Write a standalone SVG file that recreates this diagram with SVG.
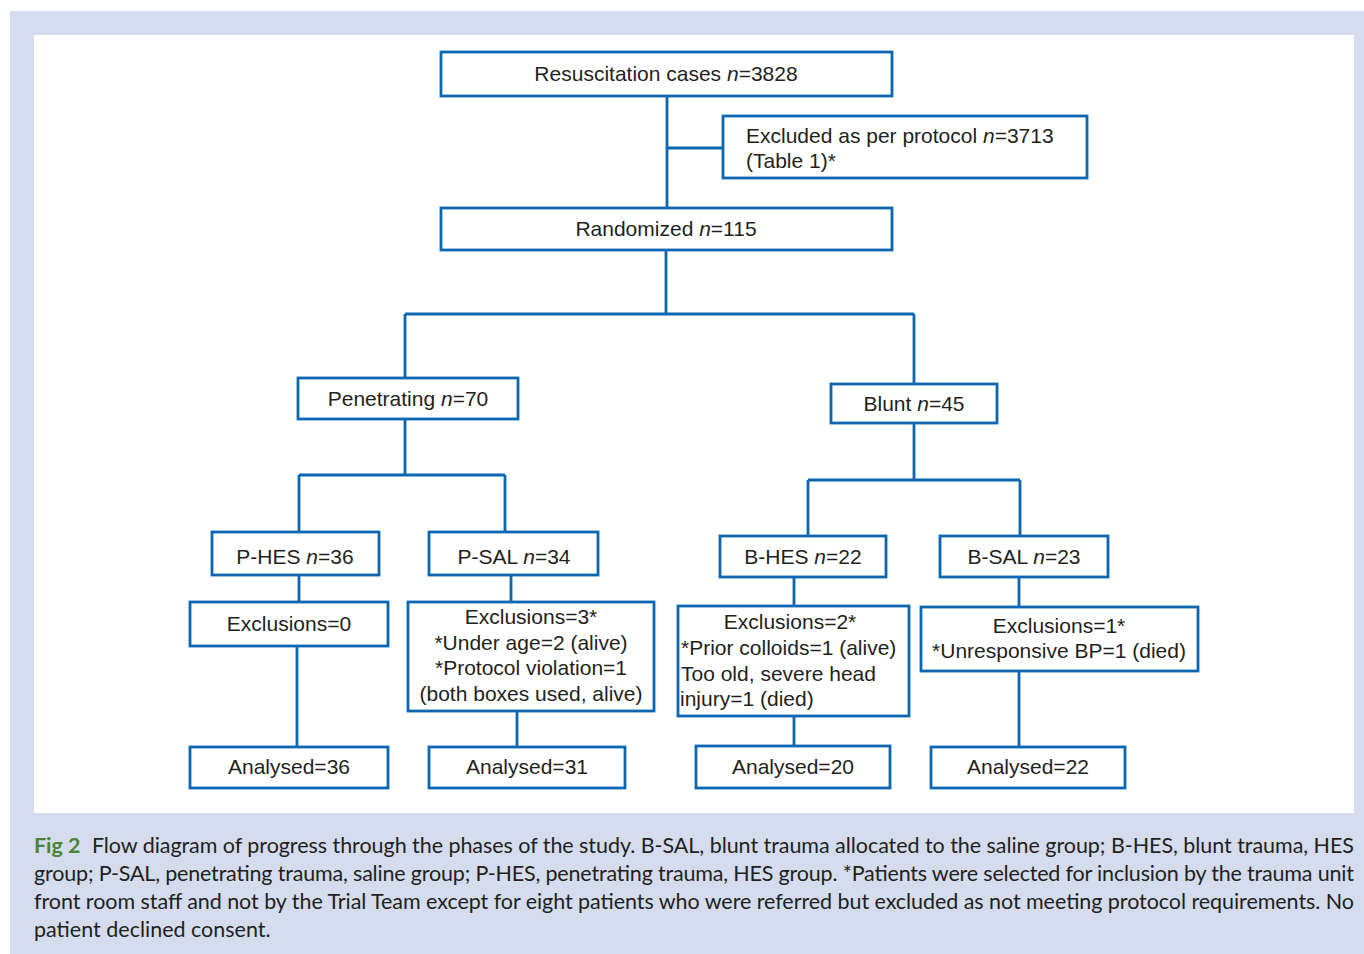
<svg xmlns="http://www.w3.org/2000/svg" width="1364" height="954" viewBox="0 0 1364 954">
<style>
.box{fill:#fff;stroke:#0b67b1;stroke-width:2.8}
.conn{fill:none;stroke:#0b67b1;stroke-width:2.8}
.t{font-family:"Liberation Sans",Arial,Helvetica,sans-serif;font-size:21px;fill:#231f20}
.c{text-anchor:middle}
.cap{font-family:Lato,"Open Sans","Liberation Sans",sans-serif;font-size:21.5px;fill:#231f20}
.fig{font-weight:bold;fill:#4a8535}
</style>
<rect x="0" y="0" width="1364" height="954" fill="#fff"/>
<rect x="10" y="11" width="1354" height="943" fill="#d4dcee"/>
<rect x="34" y="35" width="1320" height="778" fill="#fff"/>
<g id="connectors">
<path class="conn" d="M667,96 V208 M667,148 H723"/>
<path class="conn" d="M666,250 V314 M405,314 H914 M405,314 V378 M914,314 V384"/>
<path class="conn" d="M405,419 V475 M299,475 H505 M299,475 V532 M505,475 V532"/>
<path class="conn" d="M914,423 V480 M808,480 H1020 M808,480 V536 M1020,480 V536"/>
<path class="conn" d="M299,575 V602 M297,646 V747"/>
<path class="conn" d="M511,575 V602 M517,711 V747"/>
<path class="conn" d="M794,577 V606 M794,716 V746"/>
<path class="conn" d="M1019,577 V607 M1019,671 V747"/>
</g>
<g id="resus"><rect class="box" x="441" y="52" width="451" height="44"/><text class="t c" x="666" y="81">Resuscitation cases <tspan font-style="italic">n</tspan>=3828</text></g>
<g id="excluded"><rect class="box" x="723" y="116" width="364" height="62"/><text class="t" x="746" y="143">Excluded as per protocol <tspan font-style="italic">n</tspan>=3713</text><text class="t" x="746" y="168">(Table 1)*</text></g>
<g id="randomized"><rect class="box" x="441" y="208" width="451" height="42"/><text class="t c" x="666" y="236">Randomized <tspan font-style="italic">n</tspan>=115</text></g>
<g id="penetrating"><rect class="box" x="298" y="378" width="220" height="41"/><text class="t c" x="408" y="406">Penetrating <tspan font-style="italic">n</tspan>=70</text></g>
<g id="blunt"><rect class="box" x="831" y="384" width="166" height="39"/><text class="t c" x="914" y="411">Blunt <tspan font-style="italic">n</tspan>=45</text></g>
<g id="phes"><rect class="box" x="212" y="532" width="167" height="43"/><text class="t c" x="295" y="564">P-HES <tspan font-style="italic">n</tspan>=36</text></g>
<g id="psal"><rect class="box" x="429" y="532" width="169" height="43"/><text class="t c" x="514" y="564">P-SAL <tspan font-style="italic">n</tspan>=34</text></g>
<g id="bhes"><rect class="box" x="720" y="536" width="166" height="41"/><text class="t c" x="803" y="564">B-HES <tspan font-style="italic">n</tspan>=22</text></g>
<g id="bsal"><rect class="box" x="940" y="536" width="168" height="41"/><text class="t c" x="1024" y="564">B-SAL <tspan font-style="italic">n</tspan>=23</text></g>
<g id="excl0"><rect class="box" x="190" y="602" width="198" height="44"/><text class="t c" x="289" y="631">Exclusions=0</text></g>
<g id="excl3"><rect class="box" x="408" y="602" width="246" height="109"/>
<text class="t c" x="531" y="624">Exclusions=3*</text>
<text class="t c" x="531" y="650">*Under age=2 (alive)</text>
<text class="t c" x="531" y="675">*Protocol violation=1</text>
<text class="t c" x="531" y="701">(both boxes used, alive)</text></g>
<g id="excl2"><rect class="box" x="678" y="606" width="231" height="110"/>
<text class="t c" x="790" y="629">Exclusions=2*</text>
<text class="t" x="681" y="655">*Prior colloids=1 (alive)</text>
<text class="t" x="681" y="681">Too old, severe head</text>
<text class="t" x="680" y="706">injury=1 (died)</text></g>
<g id="excl1"><rect class="box" x="921" y="607" width="277" height="64"/>
<text class="t c" x="1059" y="633">Exclusions=1*</text>
<text class="t c" x="1059" y="658">*Unresponsive BP=1 (died)</text></g>
<g id="an36"><rect class="box" x="190" y="747" width="198" height="41"/><text class="t c" x="289" y="774">Analysed=36</text></g>
<g id="an31"><rect class="box" x="429" y="747" width="196" height="41"/><text class="t c" x="527" y="774">Analysed=31</text></g>
<g id="an20"><rect class="box" x="696" y="746" width="194" height="42"/><text class="t c" x="793" y="774">Analysed=20</text></g>
<g id="an22"><rect class="box" x="931" y="747" width="194" height="41"/><text class="t c" x="1028" y="774">Analysed=22</text></g>
<g id="caption">
<text class="cap" x="34" y="853" textLength="1320" lengthAdjust="spacing"><tspan class="fig">Fig 2</tspan><tspan dx="6"> Flow diagram of progress through the phases of the study. B-SAL, blunt trauma allocated to the saline group; B-HES, blunt trauma, HES</tspan></text>
<text class="cap" x="34" y="881" textLength="1320" lengthAdjust="spacing">group; P-SAL, penetrating trauma, saline group; P-HES, penetrating trauma, HES group. *Patients were selected for inclusion by the trauma unit</text>
<text class="cap" x="34" y="909" textLength="1320" lengthAdjust="spacing">front room staff and not by the Trial Team except for eight patients who were referred but excluded as not meeting protocol requirements. No</text>
<text class="cap" x="34" y="937">patient declined consent.</text>
</g>
</svg>
